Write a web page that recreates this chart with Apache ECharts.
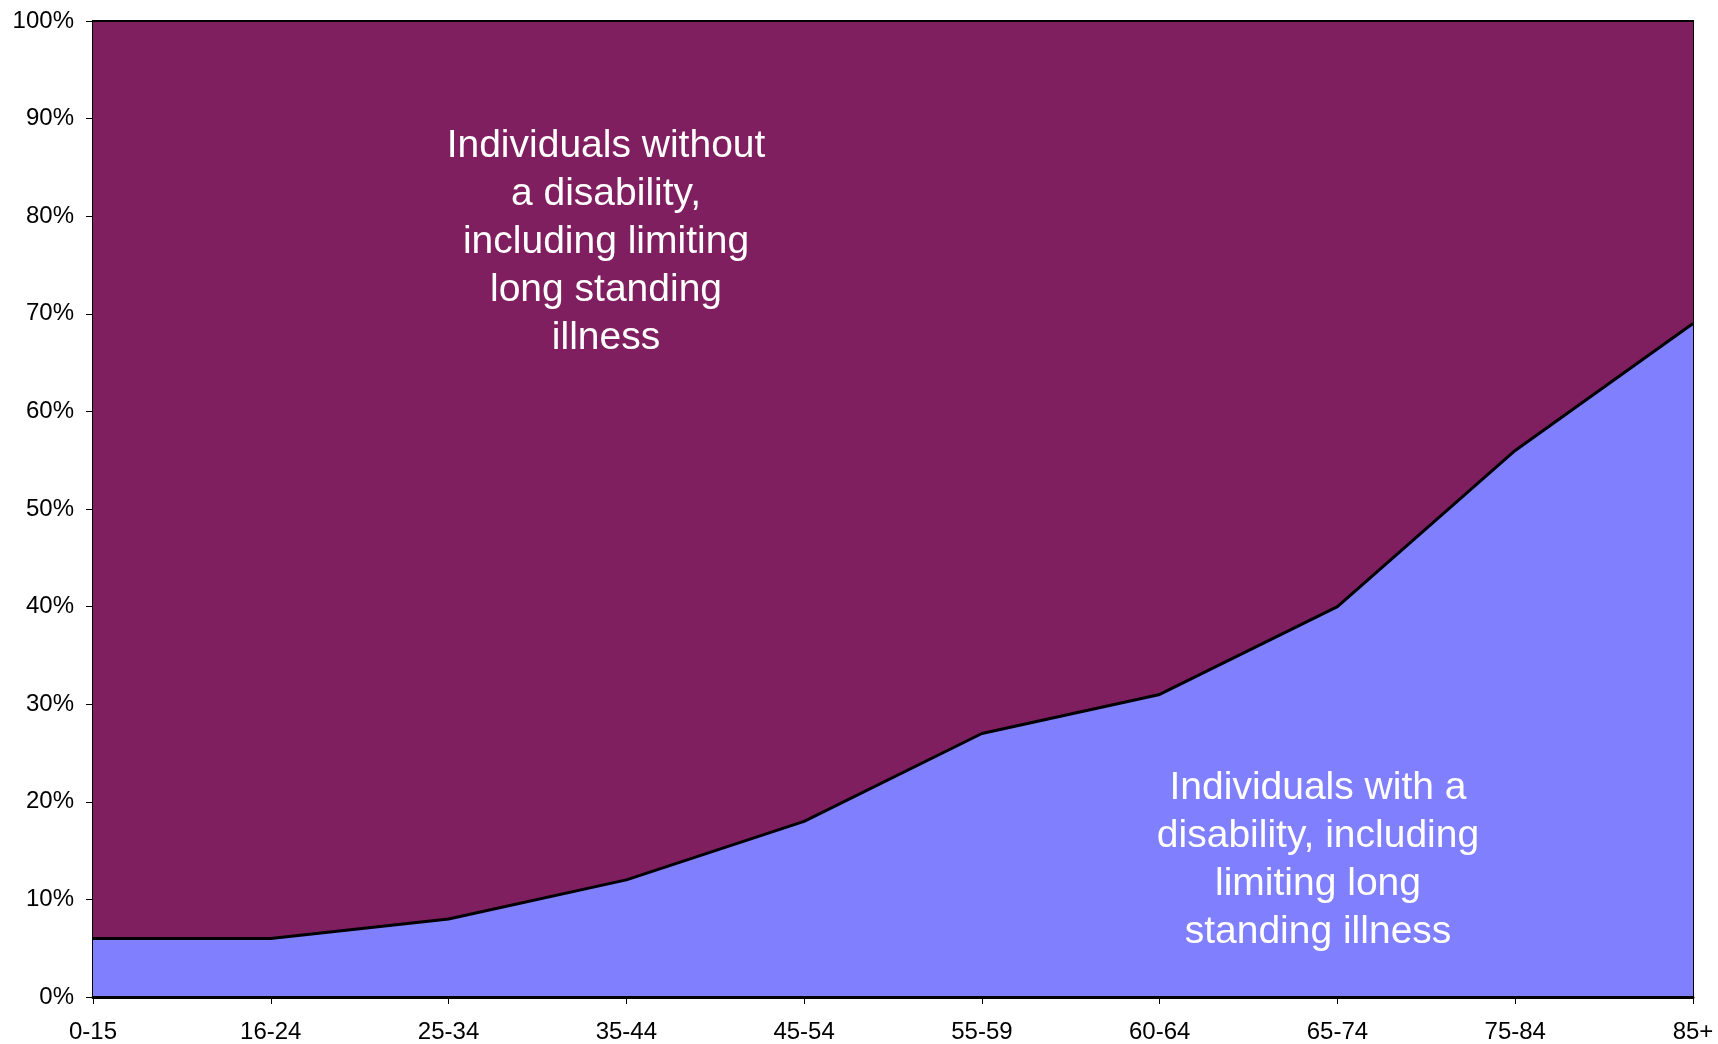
<!DOCTYPE html>
<html>
<head>
<meta charset="utf-8">
<script src="https://cdn.jsdelivr.net/npm/echarts@6/dist/echarts.min.js"></script>
<style>
  html, body { margin: 0; padding: 0; background: #fff; }
  #chart { width: 1718px; height: 1044px; }
</style>
</head>
<body>
<div id="chart"></div>
<script>
// Age bands along the x axis
const ageBands = ['0-15', '16-24', '25-34', '35-44', '45-54', '55-59', '60-64', '65-74', '75-84', '85+'];
// Share of individuals with a disability, including limiting long standing illness (%)
const withDisability = [6, 6, 8, 12, 18, 27, 31, 40, 56, 69];
// Share of individuals without (%), the remainder up to 100
const withoutDisability = [94, 94, 92, 88, 82, 73, 69, 60, 44, 31];
// Y axis tick values (%)
const yTicks = [0, 10, 20, 30, 40, 50, 60, 70, 80, 90, 100];

const labelFont = { fontFamily: 'Liberation Sans, Arial, sans-serif', fontSize: 24, color: '#000' };
const noteFont = 'Liberation Sans, Arial, sans-serif';

const chart = echarts.init(document.getElementById('chart'));
chart.setOption({
  animation: false,
  grid: { left: 93, right: 25, top: 21, bottom: 47, show: true, borderColor: '#000', borderWidth: 2, backgroundColor: 'transparent' },
  xAxis: {
    type: 'category',
    data: ageBands,
    boundaryGap: false,
    axisLine: { show: true, lineStyle: { color: '#000', width: 3 } },
    axisTick: { show: true, length: 7, lineStyle: { color: '#000', width: 1 } },
    axisLabel: Object.assign({ margin: 23 }, labelFont),
    splitLine: { show: false },
    z: 10
  },
  yAxis: {
    type: 'value',
    min: yTicks[0],
    max: yTicks[yTicks.length - 1],
    interval: 10,
    axisLine: { show: true, lineStyle: { color: '#000', width: 2 } },
    axisTick: { show: true, length: 7, lineStyle: { color: '#000', width: 1 } },
    axisLabel: Object.assign({ margin: 19, formatter: v => v + '%' }, labelFont),
    splitLine: { show: false }
  },
  series: [
    {
      name: 'Individuals with a disability, including limiting long standing illness',
      type: 'line',
      stack: 'total',
      data: withDisability,
      symbol: 'none',
      lineStyle: { color: '#000', width: 3 },
      areaStyle: { color: '#8080FF', opacity: 1 },
      z: 3
    },
    {
      name: 'Individuals without a disability, including limiting long standing illness',
      type: 'line',
      stack: 'total',
      data: withoutDisability,
      symbol: 'none',
      lineStyle: { color: '#000', width: 2 },
      areaStyle: { color: '#7F1F5F', opacity: 1 },
      z: 2
    }
  ],
  graphic: [
    {
      type: 'text',
      x: 606, y: 242,
      style: {
        text: 'Individuals without\na disability,\nincluding limiting\nlong standing\nillness',
        fill: '#fff', font: '39px ' + noteFont, lineHeight: 48,
        align: 'center', verticalAlign: 'middle'
      },
      z: 20
    },
    {
      type: 'text',
      x: 1318, y: 860,
      style: {
        text: 'Individuals with a\ndisability, including\nlimiting long\nstanding illness',
        fill: '#fff', font: '39px ' + noteFont, lineHeight: 48,
        align: 'center', verticalAlign: 'middle'
      },
      z: 20
    }
  ]
});
</script>
</body>
</html>
